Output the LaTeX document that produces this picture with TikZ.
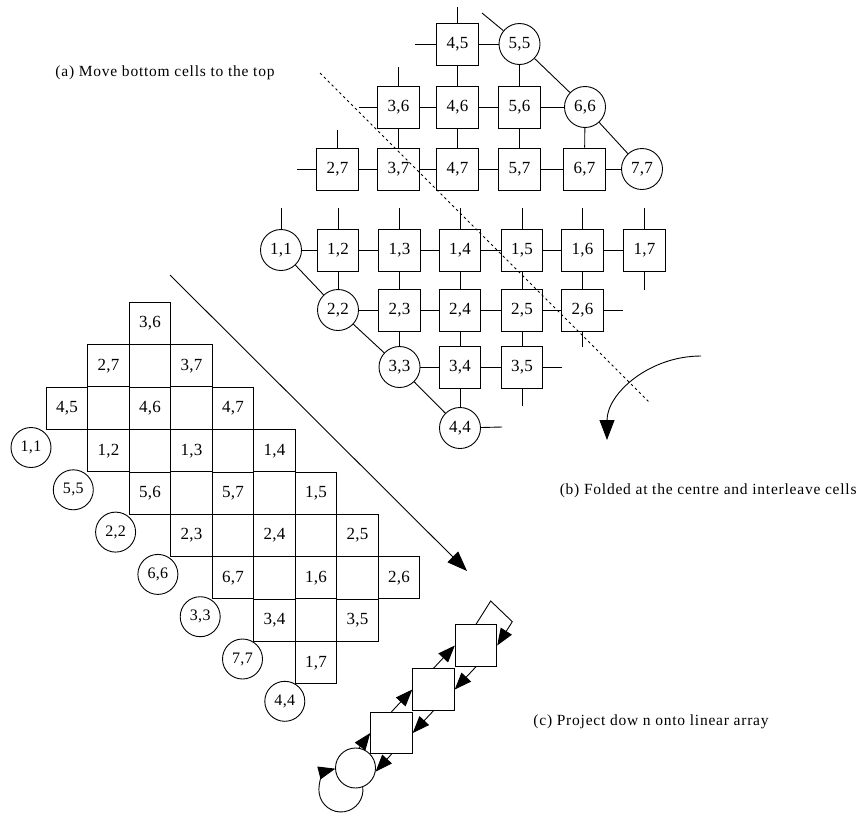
\documentclass[tikz,border=0pt]{standalone}
\usepackage{fontspec}
\setmainfont{Liberation Serif}
\newfontfamily\capfont{Liberation Serif}[LetterSpace=5]
\newfontfamily\labfont{Liberation Serif}[LetterSpace=2]
\usetikzlibrary{arrows.meta,calc}
\begin{document}
\begin{tikzpicture}[x=1pt,y=-1pt,line width=0.9pt,
  cellbox/.style={draw,minimum width=41.5pt,minimum height=42pt,inner sep=0pt,font=\labfont\fontsize{17}{19}\selectfont},
  cellcirc/.style={draw,circle,minimum size=41pt,inner sep=0pt,font=\labfont\fontsize{17}{19}\selectfont},
  smallcirc/.style={draw,circle,minimum size=40pt,inner sep=0pt,font=\labfont\fontsize{16}{18}\selectfont},
  lanebox/.style={draw,fill=white,minimum size=41.5pt,inner sep=0pt},
  lanecirc/.style={draw,fill=white,circle,minimum size=40pt,inner sep=0pt},
  caption/.style={font=\capfont\fontsize{15.5}{17}\selectfont,inner sep=0pt},
  arr/.style={-{Triangle[length=17pt,width=13pt]}},
  bigarr/.style={-{Triangle[length=20pt,width=15pt]}},
  foldline/.style={dash pattern=on 2.5pt off 3pt,line width=0.8pt}
]
\useasboundingbox (0,0) rectangle (859,812);

% ---------- (a) upper triangle ----------
\node[cellbox]  (t45) at (457.5,44) {4,5};
\node[cellcirc] (t55) at (519.5,44) {5,5};
\node[cellbox]  (t36) at (398.5,107) {3,6};
\node[cellbox]  (t46) at (457.5,107) {4,6};
\node[cellbox]  (t56) at (519.5,107) {5,6};
\node[cellcirc] (t66) at (585,107) {6,6};
\node[cellbox]  (t27) at (337.5,169) {2,7};
\node[cellbox]  (t37) at (398.5,169) {3,7};
\node[cellbox]  (t47) at (457.5,169) {4,7};
\node[cellbox]  (t57) at (519.5,169) {5,7};
\node[cellbox]  (t67) at (584.5,169) {6,7};
\node[cellcirc] (t77) at (642,169) {7,7};

\coordinate (s45u) at (457.5,7);
\coordinate (s45l) at (415,44);
\coordinate (s55d) at (482,13);
\coordinate (s36u) at (398.5,67);
\coordinate (s36l) at (359,107);
\coordinate (s27u) at (337.5,130);
\coordinate (s27l) at (297,169);

\foreach \a/\b in {t45/t55,t45/t46,t55/t56,t55/t66,t36/t46,t46/t56,t56/t66,
  t36/t37,t46/t47,t56/t57,t66/t67,t66/t77,t27/t37,t37/t47,t47/t57,t57/t67,t67/t77,
  t45/s45u,t45/s45l,t55/s55d,t36/s36u,t36/s36l,t27/s27u,t27/s27l}
  \draw (\a) -- (\b);

% ---------- lower triangle ----------
\node[cellcirc] (u11) at (281,250) {1,1};
\node[cellbox]  (u12) at (338,250) {1,2};
\node[cellbox]  (u13) at (399.5,250) {1,3};
\node[cellbox]  (u14) at (460,250) {1,4};
\node[cellbox]  (u15) at (522,250) {1,5};
\node[cellbox]  (u16) at (582.5,250) {1,6};
\node[cellbox]  (u17) at (644.5,250) {1,7};
\node[cellcirc] (u22) at (338,310) {2,2};
\node[cellbox]  (u23) at (399.5,310) {2,3};
\node[cellbox]  (u24) at (460,310) {2,4};
\node[cellbox]  (u25) at (522,310) {2,5};
\node[cellbox]  (u26) at (582.5,310) {2,6};
\node[cellcirc] (u33) at (399.5,367) {3,3};
\node[cellbox]  (u34) at (460,367) {3,4};
\node[cellbox]  (u35) at (522,367) {3,5};
\node[cellcirc] (u44) at (460,428) {4,4};

\coordinate (v11u) at (281,208);
\coordinate (v12u) at (338,208);
\coordinate (v13u) at (399.5,208);
\coordinate (v14u) at (460,208);
\coordinate (v15u) at (522,208);
\coordinate (v16u) at (582.5,208);
\coordinate (v17u) at (644.5,208);
\coordinate (v17d) at (644.5,290);
\coordinate (v26r) at (623,310);
\coordinate (v26d) at (582.5,347);
\coordinate (v35r) at (562,367);
\coordinate (v35d) at (522,406);
\coordinate (v44r) at (502,427);

\foreach \a/\b in {u11/u12,u12/u13,u13/u14,u14/u15,u15/u16,u16/u17,
  u11/u22,u12/u22,u13/u23,u14/u24,u15/u25,u16/u26,
  u22/u23,u23/u24,u24/u25,u25/u26,
  u22/u33,u23/u33,u24/u34,u25/u35,u33/u34,u34/u35,u33/u44,u34/u44,
  u11/v11u,u12/v12u,u13/v13u,u14/v14u,u15/v15u,u16/v16u,u17/v17u,u17/v17d,
  u26/v26r,u26/v26d,u35/v35r,u35/v35d,u44/v44r}
  \draw (\a) -- (\b);

% fold line and curved arrow
\coordinate (fl1) at (320,73);
\coordinate (fl2) at (650,403);
\draw[foldline] (fl1) -- (fl2);
\coordinate (ca1) at (701,356);
\draw[bigarr] (ca1) arc[start angle=-90,end angle=-180,x radius=94,y radius=84];

% ---------- (b) interleaved ----------
\node[cellbox] (b36) at (150,323.5) {3,6};
\node[cellbox] (b27) at (108.5,365.9) {2,7};
\node[cellbox] (b37) at (191.5,365.9) {3,7};
\node[cellbox] (b45) at (67,408.3) {4,5};
\node[cellbox] (b46) at (150,408.3) {4,6};
\node[cellbox] (b47) at (233,408.3) {4,7};
\node[cellbox] (b12) at (108.5,450.7) {1,2};
\node[cellbox] (b13) at (191.5,450.7) {1,3};
\node[cellbox] (b14) at (274.5,450.7) {1,4};
\node[cellbox] (b56) at (150,493.1) {5,6};
\node[cellbox] (b57) at (233,493.1) {5,7};
\node[cellbox] (b15) at (316,493.1) {1,5};
\node[cellbox] (b23) at (191.5,535.5) {2,3};
\node[cellbox] (b24) at (274.5,535.5) {2,4};
\node[cellbox] (b25) at (357.5,535.5) {2,5};
\node[cellbox] (b67) at (233,577.9) {6,7};
\node[cellbox] (b16) at (316,577.9) {1,6};
\node[cellbox] (b26) at (399,577.9) {2,6};
\node[cellbox] (b34) at (274.5,620.3) {3,4};
\node[cellbox] (b35) at (357.5,620.3) {3,5};
\node[cellbox] (b17) at (316,662.7) {1,7};

\node[smallcirc] (d11) at (31,447.5) {1,1};
\node[smallcirc] (d55) at (73.3,489.8) {5,5};
\node[smallcirc] (d22) at (115.6,532.1) {2,2};
\node[smallcirc] (d66) at (157.9,574.4) {6,6};
\node[smallcirc] (d33) at (200.2,616.7) {3,3};
\node[smallcirc] (d77) at (242.5,659) {7,7};
\node[smallcirc] (d44) at (284.8,701.3) {4,4};

% big projection arrow
\coordinate (ba1) at (170,275);
\coordinate (ba2) at (467,571);
\draw[bigarr] (ba1) -- (ba2);

% ---------- (c) linear array ----------
\draw[arr] (355.5,768) ++(-69:20pt) arc[start angle=-8.6,end angle=255.5,radius=22];
\node[lanecirc] (l0) at (355.5,768) {};
\node[lanebox] (l1) at (391.5,733) {};
\node[lanebox] (l2) at (433.5,689.5) {};
\node[lanebox] (l3) at (476,645.5) {};
\coordinate (lp1) at (490.7,601);
\coordinate (lp2) at (512.3,621.7);
\draw[arr] (l0.80) -- (l1.west);
\draw[arr] (l1.south) -- (l0.-10);
\draw[arr] (l1.north) -- (l2.west);
\draw[arr] (l2.south) -- (l1.east);
\draw[arr] (l2.north) -- (l3.west);
\draw[arr] (l3.south) -- (l2.east);
\draw[arr] (l3.north) -- (lp1) -- (lp2) -- (l3.east);

% captions
\node[caption,anchor=base west] (capa) at (55,76) {(a) Move bottom cells to the top};
\node[caption,anchor=base east] (capb) at (857,494) {(b) Folded at the centre and interleave cells};
\node[caption,anchor=base west] (capc) at (533,725) {(c) Project dow n onto linear array};
\end{tikzpicture}
\end{document}
